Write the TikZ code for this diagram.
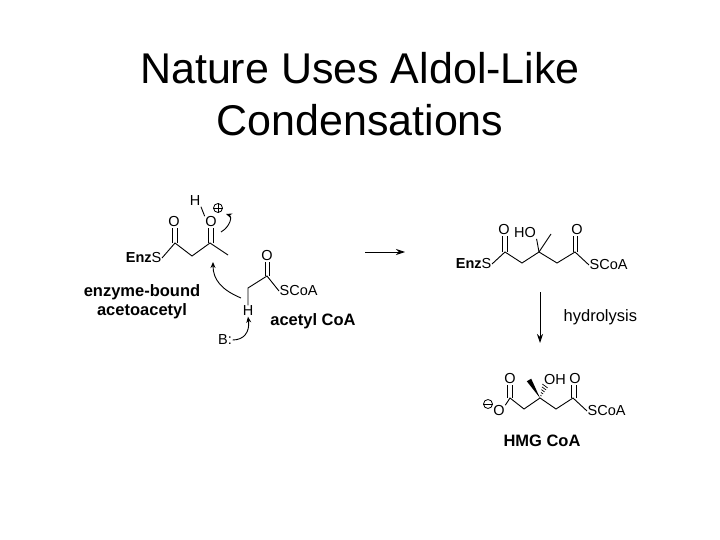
\documentclass[tikz,border=0pt]{standalone}
\usepackage{fontspec}
\setmainfont{Liberation Sans}
\usetikzlibrary{arrows.meta,calc}
\begin{document}
\begin{tikzpicture}[x=1pt,y=-1pt,
  bond/.style={line width=0.9pt},
  atom/.style={inner sep=0.5pt,font=\fontsize{14.5}{14.5}\selectfont},
  lbl/.style={inner sep=0pt,font=\fontsize{16.5}{19}\selectfont\bfseries,align=center},
  chg/.style={circle,draw,line width=0.8pt,minimum size=9pt,inner sep=0pt},
  curv/.style={line width=0.9pt,-{Stealth[length=6pt,width=5pt]}},
  rxn/.style={line width=0.9pt,-{Stealth[length=9pt,width=6pt]}}]
\useasboundingbox (0,0) rectangle (720,540);
\node (t1) at (360,68) {\fontsize{43}{46}\selectfont Nature Uses Aldol-Like};
\node (t2) at (360,120) {\fontsize{43}{46}\selectfont Condensations};
% acetoacetyl
\node[atom,anchor=east] (enzs) at (162,258) {\textbf{Enz}S};
\coordinate (a1) at (175,243); \coordinate (a2) at (192,256);
\coordinate (a3) at (210,243); \coordinate (a4) at (228,255);
\node[atom] (o1) at (174,222) {O};
\node[atom] (o2) at (211,222) {O};
\node[atom] (h1) at (195,201) {H};
\node[chg] (plus) at (218,208) {};
\draw[line width=0.8pt] (plus.west) -- (plus.east) (plus.north) -- (plus.south);
\draw[bond] (enzs.east) -- (a1) -- (a2) -- (a3) -- (a4);
\draw[bond] (172.5,243) -- (o1.south -| 172.5,0); \draw[bond] (177,243) -- (o1.south -| 177,0);
\draw[bond] (208.5,243) -- (o2.south -| 208.5,0); \draw[bond] (213,243) -- (o2.south -| 213,0);
\draw[bond] (h1.south east) -- (o2.north west);
\draw[curv] (221,232) .. controls (231,226) and (232,216) .. (226,214);
% acetyl CoA
\coordinate (b1) at (248,288); \coordinate (b2) at (267,276);
\node[atom] (o3) at (267,256) {O};
\node[atom,anchor=west] (scoa1) at (279,291) {SCoA};
\node[atom] (h2) at (248,311) {H};
\node[atom] (base) at (225,340) {B:};
\draw[bond] (h2.north) -- (b1) -- (b2) -- (scoa1.west);
\draw[bond] (265,276) -- (o3.south -| 265,0); \draw[bond] (269.5,276) -- (o3.south -| 269.5,0);
\draw[curv] (241,298) .. controls (222,290) and (213,280) .. (213,262);
\draw[curv] (base.east) .. controls (244,340) and (250,332) .. (h2.south);
\node[lbl] (l1) at (142,302) {enzyme-bound\\acetoacetyl};
\node[lbl] (l2) at (313,321) {acetyl CoA};
% reaction arrow
\coordinate (r1) at (365,252); \coordinate (r2) at (405,252);
\draw[rxn] (r1) -- (r2);
% product
\node[atom,anchor=east] (enzs2) at (492,264) {\textbf{Enz}S};
\coordinate (c1) at (505,252); \coordinate (c2) at (522,263);
\coordinate (c3) at (539,252); \coordinate (c4) at (557,263);
\coordinate (c5) at (575,252); \coordinate (c6) at (551,234);
\node[atom] (o4) at (504,230) {O};
\node[atom] (ho) at (525,233) {HO};
\node[atom] (o5) at (577,230) {O};
\node[atom,anchor=west] (scoa2) at (589,265) {SCoA};
\draw[bond] (enzs2.east) -- (c1) -- (c2) -- (c3) -- (c4) -- (c5) -- (scoa2.west);
\draw[bond] (c3) -- (c6); \draw[bond] (c3) -- (ho.south east);
\draw[bond] (502.5,252) -- (o4.south -| 502.5,0); \draw[bond] (507,252) -- (o4.south -| 507,0);
\draw[bond] (573,252) -- (o5.south -| 573,0); \draw[bond] (577.5,252) -- (o5.south -| 577.5,0);
% hydrolysis arrow
\coordinate (d1) at (540,292); \coordinate (d2) at (540,343);
\draw[rxn] (d1) -- (d2);
\node[atom,anchor=west,font=\fontsize{16.5}{16.5}\selectfont] (hyd) at (563,317) {hydrolysis};
% HMG CoA
\node[chg] (minus) at (488,404) {};
\draw[line width=0.8pt] (minus.west) -- (minus.east);
\node[atom] (om) at (499,411) {O};
\coordinate (e1) at (510,398); \coordinate (e2) at (524,409);
\coordinate (e3) at (540,398); \coordinate (e4) at (556,409);
\coordinate (e5) at (573,398); \coordinate (e6) at (529,380);
\coordinate (e7) at (545,386);
\node[atom] (o6) at (510,379) {O};
\node[atom] (oh) at (555,380) {OH};
\node[atom] (o7) at (575,379) {O};
\node[atom,anchor=west] (scoa3) at (587,411) {SCoA};
\draw[bond] (om.north east) -- (e1) -- (e2) -- (e3) -- (e4) -- (e5) -- (scoa3.west);
\draw[bond] (507.5,398) -- (o6.south -| 507.5,0); \draw[bond] (512,398) -- (o6.south -| 512,0);
\draw[bond] (571.5,398) -- (o7.south -| 571.5,0); \draw[bond] (576,398) -- (o7.south -| 576,0);
\fill (e3) -- ($(e6)+(-2.2,1.3)$) -- ($(e6)+(2.2,-1.3)$) -- cycle;
\foreach \t in {0.2,0.4,0.6,0.8,1.0}
  \draw[line width=0.7pt] ($(e3)!\t!(e7)+(-\t*2.6,-\t*1.9)$) -- ($(e3)!\t!(e7)+(\t*2.6,\t*1.9)$);
\node[lbl] (l3) at (542,441) {HMG CoA};
\end{tikzpicture}
\end{document}
